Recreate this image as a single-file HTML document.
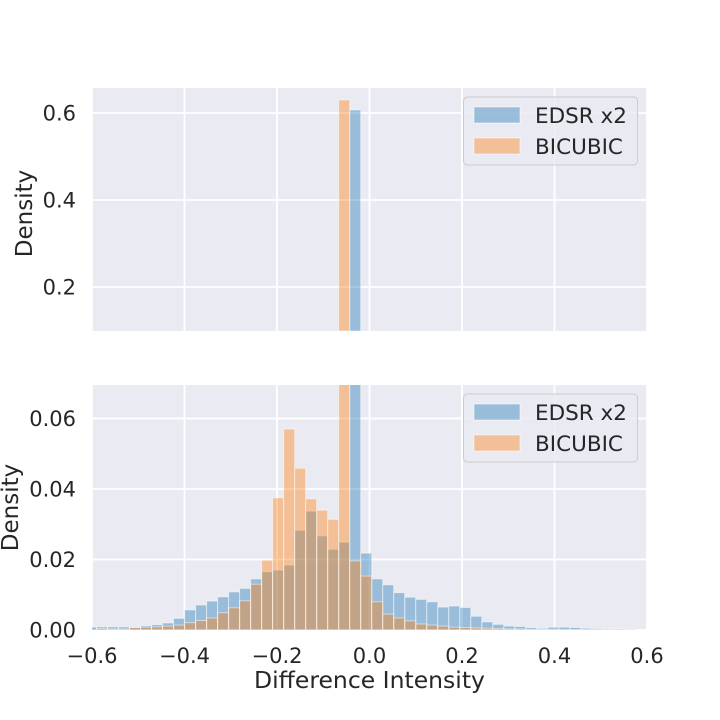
<!DOCTYPE html>
<html><head><meta charset="utf-8"><style>
body{margin:0;background:#fff;}
svg{display:block;font-family:"DejaVu Sans","Liberation Sans",sans-serif;}
</style></head><body>
<svg id="chart" width="720" height="720" viewBox="0 0 720 720"></svg>
<script>
const binStart = -0.614;
const binWidth = 0.0238;
const edsrDensity = [0.0008,0.0009,0.0009,0.0009,0.0007,0.0012,0.0015,0.002,0.0033,0.0057,0.0071,0.0082,0.0094,0.0108,0.0118,0.0145,0.0165,0.017,0.0184,0.0283,0.0337,0.0267,0.0229,0.0249,0.607,0.0218,0.0145,0.0128,0.0106,0.0093,0.0087,0.008,0.0065,0.0068,0.0064,0.0039,0.0023,0.0016,0.0011,0.001,0.0007,0.0005,0.0008,0.0008,0.0007,0.0005,0.0004,0.0003,0.0003,0.0002];
const bicubicDensity = [0.0,0.0004,0.0003,0.0003,0.0007,0.0008,0.0009,0.0011,0.0014,0.0021,0.0027,0.0034,0.0049,0.0063,0.0083,0.013,0.0198,0.0375,0.057,0.0459,0.0372,0.034,0.0314,0.63,0.0196,0.0153,0.008,0.0045,0.0034,0.0026,0.0017,0.0014,0.0011,0.0008,0.0007,0.0006,0.0005,0.0004,0.0003,0.0003,0.0002,0.0002,0.0002,0.0001,0.0001,0.0001,0.0001,0.0001,0.0001,0.0001];
const xTicks = [-0.6,-0.4,-0.2,0.0,0.2,0.4,0.6];
const xTickLabels = ["\u22120.6","\u22120.4","\u22120.2","0.0","0.2","0.4","0.6"];
const topYTicks = [0.2,0.4,0.6];
const topYTickLabels = ["0.2","0.4","0.6"];
const botYTicks = [0,0.02,0.04,0.06];
const botYTickLabels = ["0.00","0.02","0.04","0.06"];
const seriesNames = ["EDSR x2","BICUBIC"];

const NS="http://www.w3.org/2000/svg";
const svg=document.getElementById('chart');
function mk(tag,attrs,parent){const e=document.createElementNS(NS,tag);for(const k in attrs)e.setAttribute(k,attrs[k]);(parent||svg).appendChild(e);return e;}
const X0=92,X1=647;
const xs=v=>X0+(v+0.6)/1.2*(X1-X0);
const colors=["#1f77b4","#ff7f0e"];
const OP=0.4;

function panel(name,yTop,yBot,yMin,yMax,yTicks,yLabels,showX,labelX){
  const ys=v=>yBot-(v-yMin)/(yMax-yMin)*(yBot-yTop);
  const g=mk('g',{});
  
  
  const cid='clip-'+name;
  const cp=mk('clipPath',{id:cid},g);mk('rect',{x:X0,y:yTop,width:X1-X0,height:yBot-yTop},cp);
  const bg=mk('rect',{x:X0,y:yTop,width:X1-X0,height:yBot-yTop,fill:'#eaeaf2'},g);
  
  
  xTicks.forEach(t=>{const l=mk('line',{x1:xs(t),x2:xs(t),y1:yTop,y2:yBot,stroke:'#fff','stroke-width':1.8},g);
    });
  yTicks.forEach((t,i)=>{const y=ys(t);
    const l=mk('line',{x1:X0,x2:X1,y1:y,y2:y,stroke:'#fff','stroke-width':1.8},g);
    
    const tx=mk('text',{x:76,y:y+7.5,'text-anchor':'end','font-size':21,fill:'#262626'},g);tx.textContent=yLabels[i];
    });
  const bars=mk('g',{'clip-path':'url(#'+cid+')'},g);
  [edsrDensity,bicubicDensity].forEach((arr,si)=>{
    arr.forEach((v,i)=>{const l=xs(binStart+i*binWidth),r=xs(binStart+(i+1)*binWidth);
      if(v<=yMin) return;
      const top=ys(v);
      const b=mk('rect',{x:l,y:top,width:r-l,height:yBot-top,fill:colors[si],'fill-opacity':OP,stroke:'#fff','stroke-opacity':0.5,'stroke-width':1},bars);
      
      });
  });
  if(showX){xTicks.forEach((t,i)=>{const tx=mk('text',{x:xs(t),y:yBot+33,'text-anchor':'middle','font-size':21,fill:'#262626'},g);tx.textContent=xTickLabels[i];
    });}
  const yl=mk('text',{x:0,y:0,'text-anchor':'middle','font-size':23,fill:'#262626',transform:'translate('+labelX+','+((yTop+yBot)/2+(showX?0:4))+') rotate(-90)'},g);
  yl.textContent='Density';
  
  const lg=mk('g',{},g);
  
  const ly=yTop+9;
  mk('rect',{x:463.5,y:ly,width:174,height:68,rx:4,fill:'#eaeaf2','fill-opacity':0.8,stroke:'#ccc'},lg);
  seriesNames.forEach((n,i)=>{
    const sw=mk('rect',{x:474,y:ly+10+i*31,width:46,height:16,fill:colors[i],'fill-opacity':OP,stroke:'#fff','stroke-opacity':0.5},lg);
    
    const t=mk('text',{x:535,y:ly+26+i*31,'font-size':21.5,fill:'#262626'},lg);t.textContent=n;
    
  });
}
panel('top-panel',88,331,0.0989,0.6575,topYTicks,topYTickLabels,false,32);
panel('bottom-panel',385,630,0,0.0695,botYTicks,botYTickLabels,true,18);
const xl=mk('text',{x:369.5,y:688,'text-anchor':'middle','font-size':23.5,fill:'#262626'});
xl.textContent='Difference Intensity';


</script>
</body></html>
